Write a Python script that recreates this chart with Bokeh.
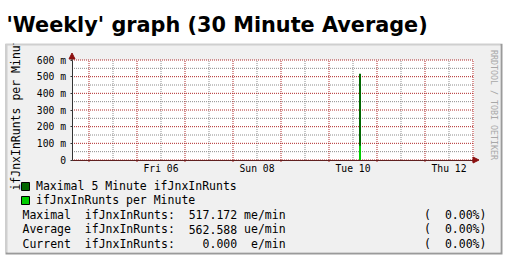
import math
from bokeh.plotting import figure
from bokeh.models import (Range1d, FixedTicker, Label, Legend, LegendItem,
                          Arrow, NormalHead, LinearAxis, BoxAnnotation)
from bokeh.embed import file_html
from bokeh.resources import INLINE

# ---------------- data ----------------
title_text = "'Weekly' graph (30 Minute Average)"
y_label = "ifJnxInRunts per Minute"
watermark = "RRDTOOL / TOBI OETIKER"

# time axis: hours since Thu 05 00:00
t_start, t_end = -8.5, 192.5
day_label_hours = [36, 84, 132, 180]
day_labels = ["Fri 06", "Sun 08", "Tue 10", "Thu 12"]
midnight_hours = [0, 24, 48, 72, 96, 120, 144, 168, 192]
noon_hours = [12, 36, 60, 84, 108, 132, 156, 180]

y_min, y_max = 0.0, 0.6
y_ticks = [0, 0.1, 0.2, 0.3, 0.4, 0.5, 0.6]
y_tick_labels = ["0", "100 m", "200 m", "300 m", "400 m", "500 m", "600 m"]
y_minor = [0.05, 0.15, 0.25, 0.35, 0.45, 0.55]

spike_hours = [135.5]
max_5min = [0.517172]      # Maximal 5 Minute ifJnxInRunts
avg_30min = [0.086]        # ifJnxInRunts per Minute

series_names = ["Maximal 5 Minute ifJnxInRunts", "ifJnxInRunts per Minute"]
series_colors = ["#006600", "#00cc00"]

stat_names = ["Maximal", "Average", "Current"]
stat_variable = "ifJnxInRunts:"
stat_values = [517.172, 562.588, 0.000]
stat_prefix = ["m", "u", ""]
stat_percent = [0.00, 0.00, 0.00]

# ---------------- styles ----------------
MONO = "DejaVu Sans Mono"
RED_GRID = "#b02828"
GRAY_GRID = "#8c8c8c"
ARROW_C = "#8b1010"
AXIS_C = "#333333"
W, H = 506, 259
CW = 11.5 * 0.6021  # monospace character width at 11.5px

# the whole canvas is the frame: 2 px per hour, 0.006 per px
p = figure(width=W, height=H, x_range=Range1d(-44.25, 208.75),
           y_range=Range1d(-0.597, 0.957),
           x_axis_type=None, y_axis_type=None,
           output_backend="svg", toolbar_location=None, min_border=0)
p.outline_line_color = None
p.background_fill_color = "white"
p.border_fill_color = "white"


def sbox(l, r, b, t, color, level="underlay"):
    return BoxAnnotation(left=l, right=r, bottom=b, top=t, left_units="screen",
                         right_units="screen", top_units="screen", bottom_units="screen",
                         fill_color=color, fill_alpha=1, line_color=None, level=level)


# rrdtool box with bevel
p.add_layout(sbox(5, 502, 5, 216, "#9a9a9a"))
p.add_layout(sbox(5, 500, 7, 216, "#cfcfcf"))
p.add_layout(sbox(7, 500, 7, 214, "#f0f0f0"))
# white canvas of the data area
p.add_layout(BoxAnnotation(left=t_start, right=t_end, bottom=y_min, top=y_max,
                           fill_color="white", fill_alpha=1, line_color=None, level="underlay"))

# grid lines
n_mid, n_noon = len(midnight_hours), len(noon_hours)
p.segment(x0=noon_hours, x1=noon_hours, y0=[y_min] * n_noon, y1=[y_max] * n_noon,
          line_color=GRAY_GRID, line_dash="1 1", line_width=1)
p.segment(x0=[t_start] * len(y_minor), x1=[t_end] * len(y_minor), y0=y_minor, y1=y_minor,
          line_color=GRAY_GRID, line_dash="1 1", line_width=1)
p.segment(x0=midnight_hours, x1=midnight_hours, y0=[y_min - 0.012] * n_mid, y1=[y_max] * n_mid,
          line_color=RED_GRID, line_dash="1 1", line_width=1)
p.segment(x0=[t_start] * len(y_ticks), x1=[t_end] * len(y_ticks), y0=y_ticks, y1=y_ticks,
          line_color=RED_GRID, line_dash="1 1", line_width=1)

# data
p.vbar(x=spike_hours, top=max_5min, width=1.0, fill_color=series_colors[0], line_color=None)
p.vbar(x=spike_hours, top=avg_30min, width=1.0, fill_color=series_colors[1], line_color=None)

# axes placed at fixed data locations
xa = LinearAxis(fixed_location=y_min, bounds=(t_start, t_end),
                ticker=FixedTicker(ticks=day_label_hours))
xa.major_label_overrides = {h: s for h, s in zip(day_label_hours, day_labels)}
xa.major_tick_out = 0
xa.major_tick_in = 0
xa.minor_tick_out = 0
xa.minor_tick_in = 0
xa.major_label_standoff = 3
xa.axis_line_color = "#602020"
xa.major_label_text_font = MONO
xa.major_label_text_font_size = "9.7px"
xa.major_label_text_color = "black"
p.add_layout(xa, "below")

ya = LinearAxis(fixed_location=t_start, bounds=(y_min, y_max),
                ticker=FixedTicker(ticks=y_ticks))
ya.major_label_overrides = {v: s for v, s in zip(y_ticks, y_tick_labels)}
ya.major_tick_out = 2
ya.major_tick_in = 0
ya.minor_tick_out = 0
ya.minor_tick_in = 0
ya.major_tick_line_color = AXIS_C
ya.major_label_standoff = 4
ya.axis_line_color = AXIS_C
ya.major_label_text_font = MONO
ya.major_label_text_font_size = "9.7px"
ya.major_label_text_color = "black"
p.add_layout(ya, "left")

# axis arrows
p.add_layout(Arrow(x_start=t_start, y_start=y_max, x_end=t_start, y_end=y_max + 0.042,
                   line_color=AXIS_C, line_width=1,
                   end=NormalHead(size=6, fill_color=ARROW_C, line_color=ARROW_C)))
p.add_layout(Arrow(x_start=t_end, y_start=y_min, x_end=t_end + 2.5, y_end=y_min,
                   line_color="#602020", line_width=1,
                   end=NormalHead(size=6, fill_color=ARROW_C, line_color=ARROW_C)))

# vertical axis label
p.add_layout(Label(x=15, y=148.5, x_units="screen", y_units="screen", text=y_label,
                   angle=math.pi / 2, text_align="center", text_baseline="middle",
                   text_font=MONO, text_font_size="11.5px", text_color="black"))

# watermark
p.add_layout(Label(x=493, y=154.5, x_units="screen", y_units="screen", text=watermark,
                   angle=-math.pi / 2, text_align="center", text_baseline="middle",
                   text_font=MONO, text_font_size="8.3px", text_color="#a8a8a8"))

# legend: proxy bars of zero size (hidden under the x axis) carry the rrdtool swatch style
proxies = [p.vbar(x=spike_hours, top=[y_min], bottom=[y_min], width=0, fill_color=c,
                  line_color="black", line_width=1)
           for c in series_colors]
legend = Legend(items=[LegendItem(label=n, renderers=[r]) for n, r in zip(series_names, proxies)],
                location=(20, 52.3), orientation="vertical",
                glyph_width=10, glyph_height=10, label_height=14, spacing=0,
                padding=0, margin=0, label_standoff=6,
                label_text_font=MONO, label_text_font_size="11.5px",
                label_text_color="black", border_line_color=None,
                background_fill_alpha=0)
p.add_layout(legend)

# statistics lines (monospace columns like rrdtool's GPRINT)
for i, (nm, v, pre, pct) in enumerate(zip(stat_names, stat_values, stat_prefix, stat_percent)):
    yy = 44.7 - 14.35 * i
    cols = [(0, nm, "left"), (9, stat_variable, "left"), (31, f"{v:.3f}", "right"),
            (38, f"{pre}e/min", "right"), (58, "(", "left"), (67, f"{pct:.2f}%)", "right")]
    for col, txt, al in cols:
        p.add_layout(Label(x=22 + col * CW, y=yy, x_units="screen", y_units="screen",
                           text=txt, text_font=MONO, text_font_size="11.5px",
                           text_color="black", text_baseline="middle", text_align=al))

# white strip above the box hides the overflowing axis label, then the title
p.add_layout(sbox(0, W, 216, H, "white", level="overlay"))
p.add_layout(Label(x=6, y=235, x_units="screen", y_units="screen", text=title_text,
                   text_font="DejaVu Sans", text_font_style="bold", text_font_size="20.8px",
                   text_color="black", text_baseline="alphabetic", level="overlay"))

open("out.html", "w").write(file_html(p, INLINE))
